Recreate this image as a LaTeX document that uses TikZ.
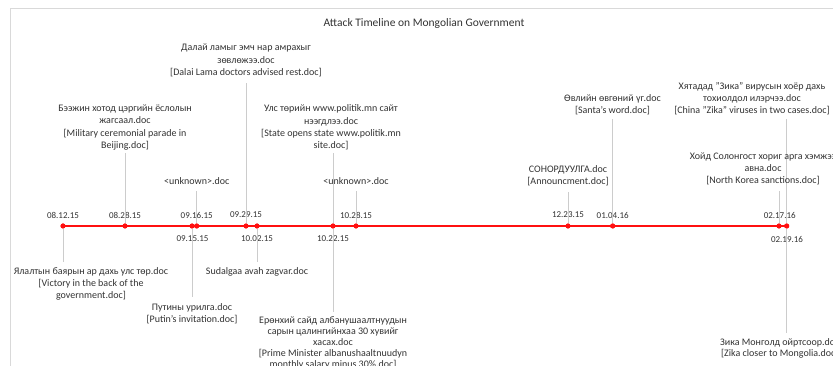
\documentclass[tikz,border=0pt]{standalone}
\usepackage{fontspec}
\setmainfont{Carlito}
\definecolor{tlred}{HTML}{FF1010}
\definecolor{conngray}{HTML}{CCCCCC}
\definecolor{framegray}{HTML}{D9D9D9}
\definecolor{txt}{HTML}{333333}
\begin{document}
\begin{tikzpicture}[x=1pt,y=-1pt,
  framebox/.style={draw=framegray,line width=1pt},
  tline/.style={draw=tlred,line width=1.8pt},
  tdot/.style={circle,fill=tlred,inner sep=0pt,minimum size=5pt},
  conn/.style={draw=conngray,line width=0.6pt},
  datelbl/.style={inner sep=0pt,text=txt,font=\fontsize{9}{10}\selectfont},
  evlbl/.style={inner sep=0pt,text=txt,align=center,font=\fontsize{10}{12.2}\selectfont},
  evlbltight/.style={inner sep=0pt,text=txt,align=center,font=\fontsize{10}{11}\selectfont},
  titlelbl/.style={inner sep=0pt,text=txt,font=\fontsize{11.5}{13}\selectfont}]
\useasboundingbox (0,0) rectangle (833,366);
\begin{scope}
\clip (0,0) rectangle (833,366);
\fill[white] (0,0) rectangle (833,366);
\draw[framebox] (10,9) rectangle (900,420);
\node[titlelbl] (title) at (424,23) {Attack Timeline on Mongolian Government};

% dots
\node[tdot] (d1) at (63,226) {};
\node[tdot] (d2) at (125,226) {};
\node[tdot] (d3) at (192,226) {};
\node[tdot] (d4) at (196.7,226) {};
\node[tdot] (d5) at (246,226) {};
\node[tdot] (d6) at (257,226) {};
\node[tdot] (d7) at (333,226) {};
\node[tdot] (d8) at (356,226) {};
\node[tdot] (d9) at (568,226) {};
\node[tdot] (d10) at (612.7,226) {};
\node[tdot] (d11) at (779,226) {};
\node[tdot] (d12) at (786.7,226) {};
\draw[tline] (d1.center) -- (d12.center);
\foreach \n in {d1,d2,d3,d4,d5,d6,d7,d8,d9,d10,d11,d12} {\node[tdot] at (\n) {};}

% date labels
\node[datelbl] (l1) at (63,215) {08.12.15};
\node[datelbl] (l2) at (125,215) {08.28.15};
\node[datelbl] (l3) at (192.5,239) {09.15.15};
\node[datelbl] (l4) at (196.7,215) {09.16.15};
\node[datelbl] (l5) at (246,215) {09.29.15};
\node[datelbl] (l6) at (257,239) {10.02.15};
\node[datelbl] (l7) at (333,239) {10.22.15};
\node[datelbl] (l8) at (356,215) {10.28.15};
\node[datelbl] (l9) at (568,215) {12.23.15};
\node[datelbl] (l10) at (612.7,215) {01.04.16};
\node[datelbl] (l11) at (779.7,215) {02.17.16};
\node[datelbl] (l12) at (787,239) {02.19.16};

% connector ends
\coordinate (c1) at (63,262);
\coordinate (c2) at (125,153);
\coordinate (c3) at (192,297);
\coordinate (c4) at (196.7,191);
\coordinate (c5) at (246,83);
\coordinate (c6) at (257,262);
\coordinate (c7) at (333,153);
\coordinate (c8) at (333,312);
\coordinate (c9) at (356,191);
\coordinate (c10) at (568,192);
\coordinate (c11) at (612.7,119);
\coordinate (c12) at (779,191);
\coordinate (c13) at (786.7,119);
\coordinate (c14) at (786.7,333);

\draw[conn] (d1) -- (c1);
\draw[conn] (d2) -- (c2);
\draw[conn] (d3) -- (c3);
\draw[conn] (d4) -- (c4);
\draw[conn] (d5) -- (c5);
\draw[conn] (d6) -- (c6);
\draw[conn] (d7) -- (c7);
\draw[conn] (d7) -- (c8);
\draw[conn] (d8) -- (c9);
\draw[conn] (d9) -- (c10);
\draw[conn] (d10) -- (c11);
\draw[conn] (d11) -- (c12);
\draw[conn] (d12) -- (c13);
\draw[conn] (d12) -- (c14);

% event labels
\node[evlbl] (e1) at (91,284) {Ялалтын баярын ар дахь улс төр.doc\\{}[Victory in the back of the\\government.doc]};
\node[evlbl] (e2) at (125,127.5) {Бээжин хотод цэргийн ёслолын\\жагсаал.doc\\{}[Military ceremonial parade in\\Beijing.doc]};
\node[evlbl] (e3) at (192,314) {Путины урилга.doc\\{}[Putin's invitation.doc]};
\node[evlbl] (e4) at (196.7,181) {<unknown>.doc};
\node[evlbl] (e5) at (246,60.5) {Далай ламыг эмч нар амрахыг\\зөвлөжээ.doc\\{}[Dalai Lama doctors advised rest.doc]};
\node[evlbl] (e6) at (257,272) {Sudalgaa avah zagvar.doc};
\node[evlbl] (e7) at (331,127.5) {Улс төрийн www.politik.mn сайт\\нээгдлээ.doc\\{}[State opens state www.politik.mn\\site.doc]};
\node[evlbltight] (e8) at (333,342.5) {Ерөнхий сайд албанушаалтнуудын\\сарын цалингийнхаа 30 хувийг\\хасах.doc\\{}[Prime Minister albanushaaltnuudyn\\monthly salary minus 30\%.doc]};
\node[evlbl] (e9) at (356,181) {<unknown>.doc};
\node[evlbl] (e10) at (568,175.5) {СОНОРДУУЛГА.doc\\{}[Announcment.doc]};
\node[evlbl] (e11) at (612.5,104.5) {Өвлийн өвгөний үг.doc\\{}[Santa's word.doc]};
\node[evlbl] (e12) at (763,169) {Хойд Солонгост хориг арга хэмжээ\\авна.doc\\{}[North Korea sanctions.doc]};
\node[evlbl] (e13) at (752,98.5) {Хятадад "Зика" вирусын хоёр дахь\\тохиолдол илэрчээ.doc\\{}[China "Zika" viruses in two cases.doc]};
\node[evlbltight,anchor=west] (e14) at (720,348) {Зика Монголд ойртсоор.doc\\{}[Zika closer to Mongolia.doc]};
\end{scope}
\end{tikzpicture}
\end{document}
